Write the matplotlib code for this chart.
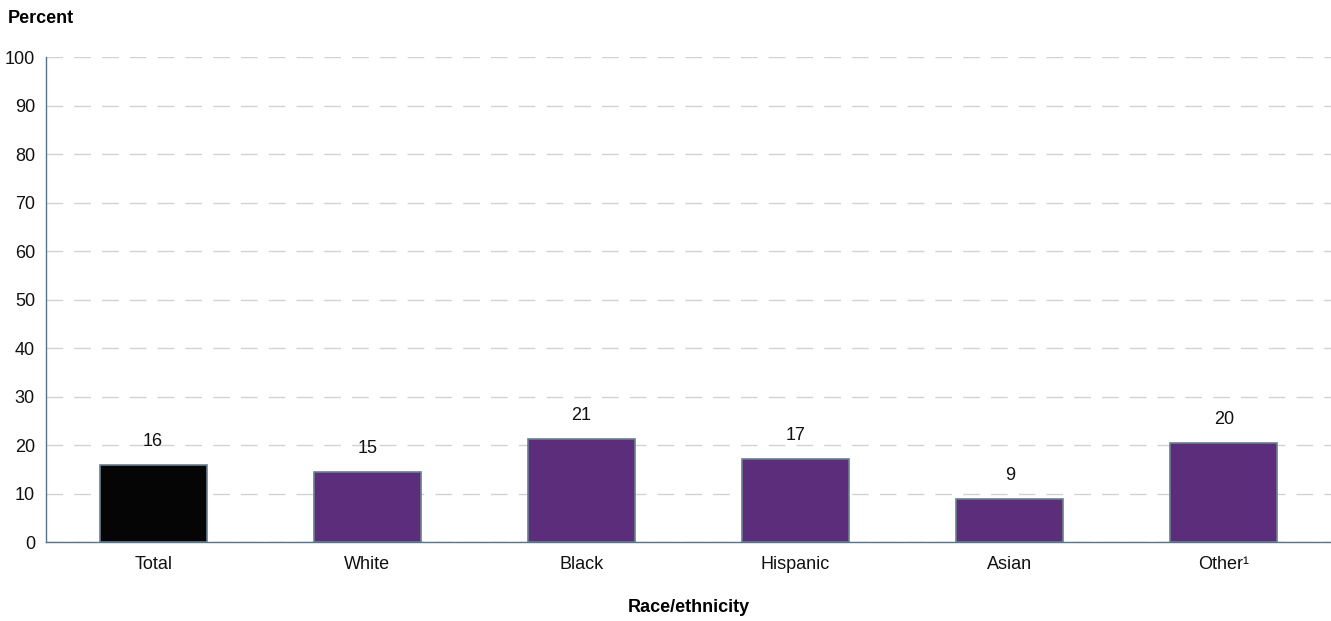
import matplotlib.pyplot as plt

categories = ['Total', 'White', 'Black', 'Hispanic', 'Asian', 'Other¹']
values = [15.9, 14.5, 21.3, 17.2, 8.9, 20.5]
labels = ['16', '15', '21', '17', '9', '20']
colors = ['#050505', '#5b2d7b', '#5b2d7b', '#5b2d7b', '#5b2d7b', '#5b2d7b']

plt.rcParams['font.family'] = ['Liberation Sans', 'DejaVu Sans']

fig = plt.figure(figsize=(13.31, 6.21), dpi=100)
ax = fig.add_axes([0.0346, 0.1272, 0.9654, 0.781])

x = range(len(categories))
bars = ax.bar(x, values, width=0.5, color=colors, edgecolor='#6a7f8e', linewidth=1.2, zorder=3)
for b, lab in zip(bars, labels):
    ax.text(b.get_x() + b.get_width() / 2, b.get_height() + 3, lab,
            ha='center', va='bottom', fontsize=13, color='#111111')

ax.set_xlim(-0.5, len(categories) - 0.5)
ax.set_ylim(0, 100)
ax.set_yticks(range(0, 101, 10))
ax.set_xticks(list(x))
ax.set_xticklabels(categories)
ax.tick_params(axis='both', length=0, labelsize=13, colors='#111111')
ax.tick_params(axis='x', pad=10)
ax.tick_params(axis='y', pad=8)

ax.yaxis.grid(True, linestyle=(0, (12, 8)), color='#d2d2d2', linewidth=1, zorder=0)
for s in ['top', 'right']:
    ax.spines[s].set_visible(False)
for s in ['left', 'bottom']:
    ax.spines[s].set_color('#56758a')
    ax.spines[s].set_linewidth(1)

fig.text(0.006, 0.971, 'Percent', fontsize=13, fontweight='bold', ha='left', va='center')
fig.text((46 + 1331) / 2 / 1331, 0.022, 'Race/ethnicity', fontsize=13, fontweight='bold',
         ha='center', va='center')

fig.savefig('out.png', dpi=100)
